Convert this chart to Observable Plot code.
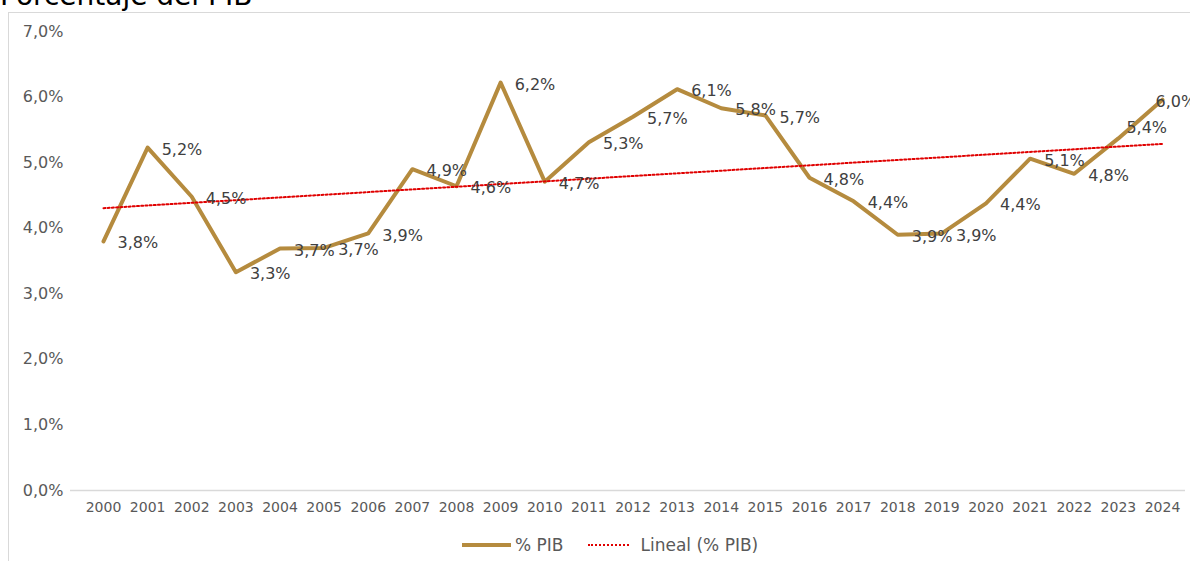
<!DOCTYPE html>
<html>
<head>
<meta charset="utf-8">
<script src="https://cdn.jsdelivr.net/npm/d3@7"></script>
<script src="https://cdn.jsdelivr.net/npm/@observablehq/plot@0.6"></script>
<style>
  body { margin:0; width:1190px; height:561px; overflow:hidden; position:relative; background:#fff; font-family:"DejaVu Sans", Verdana, sans-serif; }
  #frame { position:absolute; left:8px; top:12px; width:1200px; height:600px; border:1px solid #d9d9d9; }
  #title { position:absolute; left:0; top:-18px; font-size:28px; line-height:1; color:#000; white-space:nowrap; }
  #chart { position:absolute; left:0; top:0; }
  #legend { position:absolute; left:462px; top:535px; height:20px; display:flex; align-items:center; font-size:17px; color:#595959; white-space:nowrap; }
  .sw { display:inline-block; height:0; }
</style>
</head>
<body>
<div id="frame"></div>
<div id="title">Porcentaje del PIB</div>
<div id="chart"></div>
<div id="legend">
  <span class="sw" style="border-top:4px solid #B58B3E; width:49px; margin-right:4px"></span><span>% PIB</span>
  <span class="sw" style="border-top:2px dotted #E00000; width:41px; margin-left:24px; margin-right:12px"></span><span>Lineal (% PIB)</span>
</div>
<script>
const years = [2000,2001,2002,2003,2004,2005,2006,2007,2008,2009,2010,2011,2012,2013,2014,2015,2016,2017,2018,2019,2020,2021,2022,2023,2024];
const pib   = [3.80,5.23,4.48,3.33,3.69,3.70,3.92,4.90,4.64,6.22,4.71,5.31,5.70,6.12,5.83,5.72,4.77,4.41,3.90,3.92,4.38,5.06,4.83,5.37,5.96];
const yTicks = [0,1,2,3,4,5,6,7];

const data = years.map((y, i) => ({year: y, value: pib[i]}));
const pct = d => d.toFixed(1).replace(".", ",") + "%";
const lastYears = [2023, 2024];

const chart = Plot.plot({
  width: 1190,
  height: 525,
  marginLeft: 70,
  marginRight: 5,
  marginTop: 31,
  marginBottom: 35,
  style: {fontFamily: "DejaVu Sans, Verdana, sans-serif", background: "transparent"},
  x: {type: "linear", domain: [2000, 2024], insetLeft: 33, insetRight: 23},
  y: {domain: [0, 7]},
  marks: [
    Plot.ruleY([0], {stroke: "#d9d9d9", strokeWidth: 1.5}),
    Plot.axisY({ticks: yTicks, tickFormat: pct, tickSize: 0, tickPadding: 7, fontSize: 16, fill: "#595959", label: null}),
    Plot.axisX({ticks: years, tickFormat: d => String(d), tickSize: 0, tickPadding: 12, fontSize: 14, fill: "#595959", label: null}),
    Plot.line(data, {x: "year", y: "value", stroke: "#B58B3E", strokeWidth: 4, strokeLinejoin: "round"}),
    Plot.linearRegressionY(data, {x: "year", y: "value", stroke: "#E00000", strokeWidth: 2, strokeDasharray: "2 2.2", ci: 0}),
    Plot.text(data.filter(d => !lastYears.includes(d.year)), {x: "year", y: "value", text: d => pct(d.value), dx: 14, dy: 2, textAnchor: "start", fontSize: 16, fill: "#404040"}),
    Plot.text(data.filter(d => d.year === 2023), {x: "year", y: "value", text: d => pct(d.value), dx: 8, dy: -11, textAnchor: "start", fontSize: 16, fill: "#404040"}),
    Plot.text(data.filter(d => d.year === 2024), {x: "year", y: "value", text: d => pct(d.value), dx: -7, dy: 2, textAnchor: "start", fontSize: 16, fill: "#404040"})
  ]
});
document.getElementById("chart").appendChild(chart);
</script>
</body>
</html>
